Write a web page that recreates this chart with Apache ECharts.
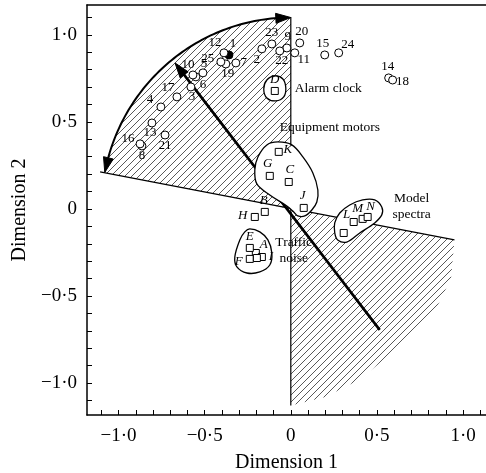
<!DOCTYPE html>
<html><head><meta charset="utf-8">
<script src="https://cdn.jsdelivr.net/npm/echarts@6/dist/echarts.min.js"></script>
<style>html,body{margin:0;padding:0;background:#fff}#c{width:486px;height:473px}</style>
</head><body><div id="c"></div>
<script>
// ---- data ----
const circleNames = ['1','2','3','4','5','6','7','8','9','10','11','12','13','14','15','16','17','18','19','20','21','22','23','24','25'];
const circleX = [-0.359,-0.168,-0.580,-0.754,-0.510,-0.551,-0.319,-0.864,-0.023,-0.568,0.023,-0.388,-0.806,0.568,0.197,-0.875,-0.661,0.591,-0.377,0.052,-0.730,-0.064,-0.110,0.278,-0.406];
const circleY = [0.885,0.920,0.701,0.586,0.782,0.759,0.839,0.362,0.925,0.770,0.897,0.897,0.494,0.753,0.885,0.374,0.644,0.741,0.833,0.954,0.425,0.908,0.948,0.897,0.845];
const filledCircles = ['1'];

const squareNames = ['A','B','C','D','E','F','G','H','I','J','K','L','M','N','',''];
const squareX = [-0.203,-0.151,-0.012,-0.093,-0.238,-0.238,-0.122,-0.209,-0.168,0.075,-0.070,0.365,0.417,0.446,0.307,-0.197];
const squareY = [-0.253,-0.017,0.155,0.678,-0.224,-0.287,0.190,-0.046,-0.276,0.006,0.328,-0.075,-0.057,-0.046,-0.138,-0.282];

const xLabelValues = [-1, -0.5, 0, 0.5, 1];
const yLabelValues = [-1, -0.5, 0, 0.5, 1];
const tickValues = [-1.1,-1,-0.9,-0.8,-0.7,-0.6,-0.5,-0.4,-0.3,-0.2,-0.1,0,0.1,0.2,0.3,0.4,0.5,0.6,0.7,0.8,0.9,1.0,1.1];

// annotation geometry (data coordinates)
const blobAlarm = [[-0.093,0.764],[-0.046,0.747],[-0.029,0.695],[-0.041,0.644],[-0.087,0.621],[-0.139,0.638],[-0.157,0.690],[-0.139,0.741]];
const blobEquip = [[-0.139,0.368],[-0.075,0.385],[0.006,0.368],[0.070,0.299],[0.128,0.207],[0.157,0.109],[0.151,0.040],[0.122,-0.006],[0.081,-0.040],[0.041,-0.040],[0.017,-0.017],[-0.023,0.017],[-0.122,0.080],[-0.197,0.144],[-0.209,0.224],[-0.191,0.299]];
const blobTraffic = [[-0.238,-0.115],[-0.180,-0.132],[-0.133,-0.178],[-0.110,-0.253],[-0.122,-0.322],[-0.180,-0.362],[-0.255,-0.368],[-0.313,-0.333],[-0.325,-0.276],[-0.296,-0.178],[-0.267,-0.132]];
const blobModel = [[0.255,-0.080],[0.284,-0.023],[0.342,0.023],[0.417,0.052],[0.487,0.052],[0.528,0.011],[0.528,-0.034],[0.487,-0.080],[0.400,-0.138],[0.325,-0.190],[0.272,-0.178],[0.255,-0.138]];
const crossLine = [[-1.107,0.213],[0.950,-0.178]];
const verticalLine = [[0,1.103],[0,-1.13]];
const thickArrow = [[0.516,-0.695],[-0.672,0.839]];
const arcRadius = 1.10, arcStartDeg = 169, arcEndDeg = 90;
const lowerHatch = [[0,0],[0.950,-0.178],[0.93,-0.40],[0.83,-0.60],[0.62,-0.80],[0.40,-0.98],[0.20,-1.08],[0,-1.13]];

const groupLabels = ['Alarm clock','Equipment motors','Traffic\nnoise','Model\nspectra'];
const groupLabelPos = [[0.023,0.695],[-0.064,0.471],[0.017,-0.241],[0.701,0.017]];
const groupLabelAlign = ['left','left','center','center'];

// label offsets (px)
const circleOffsets = {'1':[4,-11],'2':[-5,11],'3':[1,10],'4':[-11,-7],'5':[1,-9],'6':[7,8],'7':[8,0],'8':[0,10],'9':[1,-11],'10':[-5,-10],'11':[9,7],'12':[-9,-10],'13':[-2,10],'14':[-1,-11],'15':[-2,-11],'16':[-12,-5],'17':[-9,-9],'18':[10,2],'19':[2,10],'20':[2,-11],'21':[0,11],'22':[2,10],'23':[0,-11],'24':[9,-8],'25':[-13,-3]};
const squareOffsets = {'A':[8,-8],'B':[-1,-11],'C':[1,-12],'D':[0,-11],'E':[0,-11],'F':[-11,3],'G':[-2,-12],'H':[-12,-1],'I':[9,0],'J':[-1,-12],'K':[9,-2],'L':[-7,-7],'M':[-5,-10],'N':[3,-10]};

const FONT = 'Liberation Serif';

// hatch pattern
const hc = document.createElement('canvas');
const HS = 7;
hc.width = HS; hc.height = HS;
const hx = hc.getContext('2d');
hx.strokeStyle = '#222'; hx.lineWidth = 0.75;
hx.beginPath();
hx.moveTo(0, HS); hx.lineTo(HS, 0);
hx.moveTo(-1, 1); hx.lineTo(1, -1);
hx.moveTo(HS-1, HS+1); hx.lineTo(HS+1, HS-1);
hx.stroke();
const hatchFill = {image: hc, repeat: 'repeat'};

function fmt(v){
  if (v === 0) return '0';
  const s = Math.abs(v).toFixed(1).replace('.', '·');
  return (v < 0 ? '−' : '') + s;
}

function arrowHead(tip, from, len, wid){
  const dx = tip[0]-from[0], dy = tip[1]-from[1];
  const d = Math.hypot(dx,dy); const ux = dx/d, uy = dy/d;
  const bx = tip[0]-ux*len, by = tip[1]-uy*len;
  return {type:'polygon', shape:{points:[tip,[bx-uy*wid/2, by+ux*wid/2],[bx+uy*wid/2, by-ux*wid/2]]}, style:{fill:'#000', stroke:'#000', lineWidth:1}};
}

const chart = echarts.init(document.getElementById('c'), null, {renderer:'canvas'});

function arcPoints(){
  const pts = [];
  for (let a = arcStartDeg; a >= arcEndDeg; a -= 1) {
    const r = a*Math.PI/180;
    pts.push([arcRadius*Math.cos(r), arcRadius*Math.sin(r)]);
  }
  return pts;
}

const annotations = {
  type:'custom', silent:true, z:1,
  data:[[0,0]],
  renderItem: function(params, api){
    const c = p => api.coord(p);
    const arc = arcPoints().map(c);
    const upper = [c([0,0])].concat(arc);
    const children = [];
    children.push({type:'polygon', shape:{points:upper}, style:{fill:hatchFill, stroke:null}});
    children.push({type:'polygon', shape:{points:lowerHatch.map(c)}, style:{fill:hatchFill, stroke:null}});
    children.push({type:'polyline', shape:{points:crossLine.map(c)}, style:{stroke:'#000', lineWidth:1.2, fill:null}});
    children.push({type:'polyline', shape:{points:verticalLine.map(c)}, style:{stroke:'#000', lineWidth:1.2, fill:null}});
    // thick arrow
    const ta = thickArrow.map(c);
    const tdx = ta[1][0]-ta[0][0], tdy = ta[1][1]-ta[0][1], tl = Math.hypot(tdx,tdy);
    const tEnd = [ta[1][0]-tdx/tl*10, ta[1][1]-tdy/tl*10];
    children.push({type:'polyline', shape:{points:[ta[0], tEnd]}, style:{stroke:'#000', lineWidth:2.6, fill:null}});
    children.push(arrowHead(ta[1], ta[0], 15, 10));
    // arc with arrows at both ends
    const inner = arc.slice(4, arc.length-4);
    children.push({type:'polyline', shape:{points:inner}, style:{stroke:'#000', lineWidth:2, fill:null}});
    children.push(arrowHead(arc[0], arc[6], 15, 10));
    children.push(arrowHead(arc[arc.length-1], arc[arc.length-7], 15, 10));
    // blobs
    [blobAlarm, blobEquip, blobTraffic, blobModel].forEach(b => {
      children.push({type:'polygon', shape:{points:b.map(c), smooth:0.35}, style:{fill:'#fff', stroke:'#000', lineWidth:1.3}});
    });
    // group labels
    groupLabels.forEach((t,i) => {
      const p = c(groupLabelPos[i]);
      children.push({type:'text', x:p[0], y:p[1], style:{text:t, fill:'#000', font:'13.5px "'+FONT+'"', align:groupLabelAlign[i], verticalAlign:'middle', lineHeight:16}});
    });
    return {type:'group', children};
  }
};

const circleData = circleNames.map((n,i) => {
  const filled = filledCircles.indexOf(n) >= 0;
  return {name:n, value:[circleX[i], circleY[i]],
    itemStyle: filled ? {color:'#000'} : undefined,
    label:{offset: circleOffsets[n] || [0,0]}};
});
const squareData = squareNames.map((n,i) => ({name:n, value:[squareX[i], squareY[i]], label:{offset: squareOffsets[n] || [0,0]}}));

const plainAxis = {show:true, axisTick:{show:false}, axisLabel:{show:false}, splitLine:{show:false}, axisLine:{show:true, onZero:false, lineStyle:{color:'#000', width:1.5}}};

const option = {
  animation:false,
  backgroundColor:'#fff',
  grid:{left:87, right:0, top:5, bottom:58, show:false, containLabel:false, outerBoundsMode:'none'},
  xAxis:[{type:'value', min:-1.183, max:1.133, position:'bottom',
    name:'Dimension 1', nameLocation:'middle', nameGap:38,
    nameTextStyle:{fontFamily:FONT, fontSize:20, color:'#000'},
    axisLine:{show:true, onZero:false, lineStyle:{color:'#000', width:1.5}},
    axisTick:{show:true, inside:true, length:5, customValues:tickValues, lineStyle:{color:'#000', width:1}},
    axisLabel:{customValues:xLabelValues, formatter:fmt, fontFamily:FONT, fontSize:19, color:'#000', margin:12},
    splitLine:{show:false}},
    Object.assign({type:'value', min:-1.183, max:1.133, position:'top'}, plainAxis)],
  yAxis:{type:'value', min:-1.184, max:1.172,
    name:'Dimension 2', nameLocation:'middle', nameGap:49,
    nameTextStyle:{fontFamily:FONT, fontSize:20, color:'#000'},
    axisLine:{show:true, onZero:false, lineStyle:{color:'#000', width:1.5}},
    axisTick:{show:true, inside:true, length:5, customValues:tickValues, lineStyle:{color:'#000', width:1}},
    axisLabel:{customValues:yLabelValues, formatter:fmt, fontFamily:FONT, fontSize:19, color:'#000', margin:10},
    splitLine:{show:false}},
  series:[
    annotations,
    {type:'scatter', z:3, symbol:'circle', symbolSize:8, data:circleData,
      itemStyle:{color:'#fff', borderColor:'#000', borderWidth:1, opacity:1},
      label:{show:true, position:'inside', formatter:'{b}', fontFamily:FONT, fontSize:13, color:'#000'}},
    {type:'scatter', z:3, symbol:'rect', symbolSize:7, data:squareData,
      itemStyle:{color:'#fff', borderColor:'#000', borderWidth:1, opacity:1},
      label:{show:true, position:'inside', formatter:'{b}', fontFamily:FONT, fontStyle:'italic', fontSize:13, color:'#000'}}
  ]
};
chart.setOption(option);
</script></body></html>
